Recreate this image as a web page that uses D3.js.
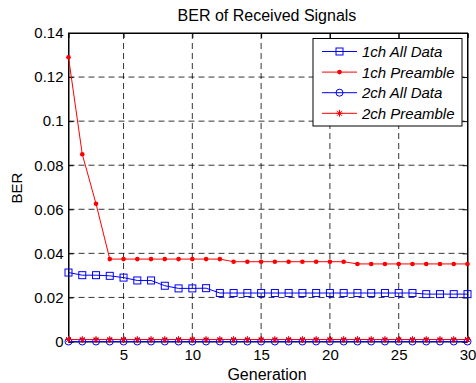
<!DOCTYPE html>
<html><head><meta charset="utf-8">
<script src="https://cdn.jsdelivr.net/npm/d3@7"></script>
<style>body{margin:0;background:#fff;}svg{display:block;font-family:"Liberation Sans",Arial,sans-serif;}</style>
</head><body><svg id="c" width="476" height="383"></svg>
<script>
const generations = d3.range(1, 31);
const ch1AllData = [0.0313,0.0301,0.0301,0.0298,0.0290,0.0277,0.0277,0.0253,0.0241,0.0241,0.0242,0.0220,0.0220,0.0220,0.0220,0.0220,0.0220,0.0220,0.0220,0.0220,0.0220,0.0220,0.0220,0.0220,0.0220,0.0220,0.0215,0.0215,0.0215,0.0215];
const ch1Preamble = [0.129,0.085,0.0625,0.0374,0.0374,0.0374,0.0374,0.0374,0.0374,0.0374,0.0374,0.0374,0.0362,0.0362,0.0362,0.0362,0.0362,0.0362,0.0362,0.0362,0.0362,0.0352,0.0352,0.0352,0.0352,0.0352,0.0352,0.0352,0.0352,0.0352];
const ch2AllData = generations.map(() => 0.0);
const ch2Preamble = generations.map(() => 0.0009);
const xTicks = [5,10,15,20,25,30];
const yTicks = [0,0.02,0.04,0.06,0.08,0.1,0.12,0.14];
const seriesNames = ["1ch All Data","1ch Preamble","2ch All Data","2ch Preamble"];

const svg = d3.select("#c");
const L = 68.5, R = 467.5, T = 33, B = 341.5;
const x = d3.scaleLinear().domain([1,30]).range([L,R]);
const y = d3.scaleLinear().domain([0,0.14]).range([B,T]);

// grid
const g = svg.append("g");
g.selectAll(".gx").data(xTicks.slice(0,-1)).enter().append("line")
  .attr("x1",d=>x(d)).attr("x2",d=>x(d)).attr("y1",T).attr("y2",B)
  .attr("stroke","#000").attr("stroke-width",0.8).attr("stroke-dasharray","6,4");
g.selectAll(".gy").data(yTicks.slice(1,-1)).enter().append("line")
  .attr("x1",L).attr("x2",R).attr("y1",d=>y(d)).attr("y2",d=>y(d))
  .attr("stroke","#000").attr("stroke-width",0.8).attr("stroke-dasharray","6,4");

// axes
const xAxisB = d3.axisBottom(x).tickValues(xTicks).tickSize(-5).tickPadding(8).tickFormat(d3.format("d"));
const xAxisT = d3.axisTop(x).tickValues(xTicks).tickSize(-5).tickFormat("");
const yAxisL = d3.axisLeft(y).tickValues(yTicks).tickSize(-5).tickPadding(5).tickFormat(d=>d===0?"0":String(+d.toFixed(2)));
const yAxisR = d3.axisRight(y).tickValues(yTicks).tickSize(-5).tickFormat("");
function style(sel){sel.select(".domain").attr("stroke","#000");sel.selectAll(".tick line").attr("stroke","#000");sel.selectAll("text").attr("fill","#000").attr("font-size",15).attr("font-family","Liberation Sans, Arial, sans-serif");}
svg.append("g").attr("transform",`translate(0,${B})`).call(xAxisB).call(style);
svg.append("g").attr("transform",`translate(0,${T})`).call(xAxisT).call(style);
svg.append("g").attr("transform",`translate(${L},0)`).call(yAxisL).call(style);
svg.append("g").attr("transform",`translate(${R},0)`).call(yAxisR).call(style);
svg.append("rect").attr("x",L).attr("y",T).attr("width",R-L).attr("height",B-T).attr("fill","none").attr("stroke","#000");

// lines
const line = d3.line().x((d,i)=>x(generations[i])).y(d=>y(d));
const plot = svg.append("g");
function drawSeries(data,color,marker){
  plot.append("path").datum(data).attr("d",line).attr("fill","none").attr("stroke",color).attr("stroke-width",1);
  const m = plot.append("g");
  data.forEach((v,i)=>drawMarker(m,x(generations[i]),y(v),color,marker));
}
function drawMarker(m,cx,cy,color,marker){
  if(marker==="square") m.append("rect").attr("x",cx-3.5).attr("y",cy-3.5).attr("width",7).attr("height",7).attr("fill","none").attr("stroke",color);
  else if(marker==="dot") m.append("circle").attr("cx",cx).attr("cy",cy).attr("r",2.3).attr("fill",color);
  else if(marker==="circle") m.append("circle").attr("cx",cx).attr("cy",cy).attr("r",3.5).attr("fill","none").attr("stroke",color);
  else if(marker==="star"){
    m.append("path").attr("d",`M${cx-3.5},${cy}H${cx+3.5}M${cx},${cy-3.5}V${cy+3.5}M${cx-2.5},${cy-2.5}L${cx+2.5},${cy+2.5}M${cx-2.5},${cy+2.5}L${cx+2.5},${cy-2.5}`).attr("stroke",color).attr("stroke-width",1);
    m.append("circle").attr("cx",cx).attr("cy",cy).attr("r",1.5).attr("fill",color);
  }
}
drawSeries(ch1AllData,"#0000ff","square");
drawSeries(ch1Preamble,"#ff0000","dot");
drawSeries(ch2AllData,"#0000ff","circle");
drawSeries(ch2Preamble,"#ff0000","star");

// title & labels
svg.append("text").attr("x",267).attr("y",21).attr("text-anchor","middle").attr("font-size",16).text("BER of Received Signals");
svg.append("text").attr("x",267).attr("y",380).attr("text-anchor","middle").attr("font-size",16).text("Generation");
svg.append("text").attr("transform","translate(22,188) rotate(-90)").attr("text-anchor","middle").attr("font-size",15).text("BER");

// legend
const lg = svg.append("g");
lg.append("rect").attr("x",313).attr("y",38.5).attr("width",149).attr("height",87.5).attr("fill","#fff").attr("stroke","#000");
const colors = ["#0000ff","#ff0000","#0000ff","#ff0000"];
const markers = ["square","dot","circle","star"];
seriesNames.forEach((n,i)=>{
  const yy = 51.5 + i*20.6;
  lg.append("line").attr("x1",322).attr("x2",357).attr("y1",yy).attr("y2",yy).attr("stroke",colors[i]);
  drawMarker(lg,339.5,yy,colors[i],markers[i]);
  lg.append("text").attr("x",362).attr("y",yy+5.5).attr("font-size",15).attr("font-style","italic").text(n);
});
</script></body></html>
